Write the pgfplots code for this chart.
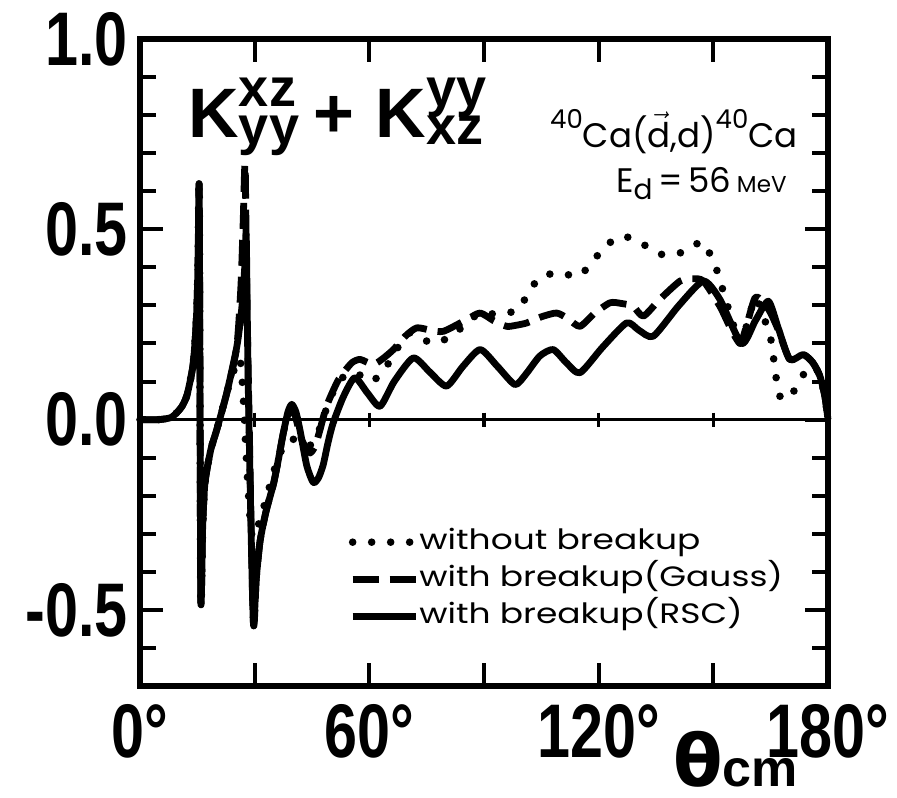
\documentclass[border=0pt]{standalone}
\usepackage{fontspec}
\setmainfont{Liberation Sans}
\newfontfamily\tickfont[FakeStretch=0.78]{Liberation Sans}
\newfontfamily\annfont{Poppins}
\newfontfamily\legfont[FakeStretch=1.23]{Poppins}
\newfontfamily\djv{DejaVu Sans}
\usepackage{pgfplots}
\pgfplotsset{compat=1.18}

% K with a superscript and a subscript pair
\newcommand\scr{\fontsize{27}{27}\selectfont}
\newcommand\KK[2]{K\rlap{\raisebox{15.5pt}{\scr #1}}\raisebox{-3.5pt}{\scr #2}}

\begin{document}
\begin{tikzpicture}
\begin{axis}[
    scale only axis,
    width            = 344pt,
    height           = 323.5pt,
    xmin = 0, xmax = 180,
    ymin = -0.7, ymax = 1.0,
    clip             = false,
    axis line style  = {line width=2.6pt},
    xtick            = {0,30,...,180},
    xticklabels      = {0°,,60°,,120°,,180°},
    ytick            = {-0.5,0,0.5,1},
    yticklabels      = {-0.5,0.0,0.5,1.0},
    minor ytick      = {-0.7,-0.6,-0.4,-0.3,-0.2,-0.1,0.1,0.2,0.3,0.4,0.6,0.7,0.8,0.9},
    tick align       = inside,
    major tick length = 11.5pt,
    minor tick length = 8pt,
    every tick/.style = {line width=2pt, black},
    ticklabel style  = {font=\tickfont\bfseries\fontsize{38}{38}\selectfont, inner sep=0pt},
    xticklabel style = {anchor=base, yshift=-35.5pt},
    yticklabel style = {anchor=east, xshift=-6pt},
    legend style     = {at={(rel axis cs:0.303,0.243)}, anchor=north west,
                        draw=none, fill=none, inner sep=0pt, row sep=5.5pt,
                        font=\legfont\fontsize{14}{14}\selectfont,
                        nodes={inner sep=0pt, text height=10pt, text depth=3pt}},
    legend cell align = left,
    legend image code/.code = {\draw[#1] (0pt,0pt) -- (31.5pt,0pt);},
    every axis plot/.append style = {line join=round},
]

% zero line with its crossing ticks
\addplot[forget plot, line width=1.6pt] coordinates {(0,0) (180,0)};
\addplot[forget plot, only marks, mark=|, mark size=3.5pt, mark options={line width=1.8pt}]
    coordinates {(30,0) (60,0) (90,0) (120,0) (150,0)};

% without breakup
\addplot[line width=3.8pt, line cap=round, dash pattern=on 0pt off 9.5pt, smooth, tension=0.4]
    coordinates {
    (0,0) (5,0) (8,0.005) (9.6,0.018) (11,0.035) (12.2,0.061) (13.3,0.11) (13.95,0.15)
    (14.5,0.22) (14.9,0.30) (15.2,0.42) (15.5,0.597) (15.9,-0.465) (16.4,-0.28) (17,-0.166)
    (18.5,-0.08) (20.1,-0.026) (22.7,0.07) (24.3,0.12) (25.5,0.16) (26.3,0.15) (26.9,0.08)
    (27.4,-0.02) (28.1,-0.15) (28.8,-0.26) (29.4,-0.31) (30.5,-0.29) (31.8,-0.25) (33.5,-0.19)
    (35.5,-0.12) (37.5,-0.07) (39.5,-0.05) (41.5,-0.06) (43.5,-0.07) (45.5,-0.06) (47.5,-0.01)
    (49.5,0.05) (51.5,0.09) (54,0.12) (57,0.12) (60,0.10) (62,0.11) (64.5,0.14) (67.5,0.19)
    (70.6,0.228) (73.5,0.215) (76.7,0.20) (81.5,0.219) (85,0.25) (89,0.28) (93.7,0.276)
    (97,0.282) (99.4,0.294) (101.6,0.333) (104.6,0.373) (109.4,0.386) (114.7,0.377)
    (118.6,0.417) (121.7,0.456) (126.4,0.482) (131.7,0.46) (136.5,0.434) (142.1,0.44)
    (147,0.467) (149.6,0.425) (151,0.39) (154,0.29) (157,0.20) (158.8,0.25) (160.9,0.32)
    (162.5,0.29) (164,0.245) (165.3,0.20) (165.9,0.149) (166.6,0.10) (167.7,0.054)
    (169.5,0.06) (171.4,0.079) (174,0.125) (176.3,0.14) (177.9,0.114) (179.2,0.06) (180,0)
    };

% with breakup (Gauss)
\addplot[line width=3.4pt, dash pattern=on 13pt off 5.5pt, smooth, tension=0.4]
    coordinates {
    (0,0) (5,0) (8,0.005) (9.6,0.018) (11,0.035) (12.2,0.061) (13.3,0.11) (13.95,0.15)
    (14.5,0.22) (14.9,0.30) (15.2,0.42) (15.5,0.597) (15.9,-0.465) (16.4,-0.28) (17,-0.166)
    (18.5,-0.08) (20.1,-0.026) (22.7,0.07) (25.3,0.19) (26.4,0.35) (27.0,0.52) (27.5,0.67)
    (28.0,0.3) (29.6,-0.52) (30.4,-0.42) (31.4,-0.32) (33,-0.24) (34.9,-0.17) (36.3,-0.10)
    (37.5,-0.035) (39.0,0.02) (40.3,0.02) (42.2,-0.05) (44.3,-0.088) (45.8,-0.07) (47,-0.03)
    (48.8,0.035) (51.5,0.097) (53.2,0.123) (55.5,0.15) (57.6,0.158) (61,0.145) (63.5,0.16)
    (66.3,0.184) (69.5,0.22) (72.4,0.241) (76,0.235) (79.4,0.232) (85.5,0.263) (89,0.28)
    (92.5,0.26) (95.9,0.245) (98.5,0.248) (101.2,0.254) (105,0.27) (109,0.28) (112,0.265)
    (115.1,0.245) (119,0.28) (123,0.307) (126,0.305) (129,0.298) (131.7,0.272) (136,0.316)
    (141.3,0.364) (144.5,0.37) (147.4,0.364) (151.7,0.298) (154.5,0.24) (157,0.20)
    (158.5,0.24) (160.9,0.32) (163,0.31) (165,0.28) (167,0.235) (170,0.158) (173.5,0.171)
    (176,0.15) (177.9,0.114) (179.2,0.06) (180,0)
    };

% with breakup (RSC)
\addplot[line width=3.4pt, smooth, tension=0.4]
    coordinates {
    (0,0) (5,0) (8,0.005) (9.6,0.018) (11,0.035) (12.2,0.061) (13.3,0.11) (13.95,0.15)
    (14.5,0.22) (14.9,0.30) (15.2,0.42) (15.5,0.597) (15.9,-0.465) (16.4,-0.28) (17,-0.166)
    (18.5,-0.08) (20.1,-0.026) (22.7,0.07) (25.3,0.19) (26.6,0.29) (27.4,0.40) (27.8,0.48)
    (28.3,0.1) (29.6,-0.52) (30.4,-0.42) (31.4,-0.32) (33,-0.24) (34.9,-0.17) (36.3,-0.10)
    (37.5,-0.035) (38.7,0.02) (39.7,0.04) (40.8,0.02) (41.9,-0.03) (43.6,-0.12) (45.3,-0.165)
    (46.6,-0.155) (47.9,-0.12) (49.2,-0.06) (50.5,-0.01) (53.2,0.06) (56.2,0.11) (59.5,0.07)
    (62.8,0.035) (66.5,0.10) (71.5,0.162) (75.8,0.125) (80.2,0.088) (84.5,0.14) (89,0.184)
    (93.5,0.14) (98.1,0.092) (101,0.12) (104.6,0.167) (108.1,0.184) (111.5,0.15) (115.1,0.123)
    (121,0.19) (127.3,0.254) (130.5,0.235) (134.3,0.219) (141,0.3) (147.4,0.364) (151.7,0.316)
    (157.4,0.20) (161,0.26) (164.4,0.311) (167,0.24) (170,0.158) (173.5,0.171) (176,0.15)
    (177.9,0.114) (179.2,0.06) (180,0)
    };

\legend{without breakup, with breakup(Gauss), with breakup(RSC)}

% annotations
\node[anchor=base west, inner sep=0pt] at (rel axis cs:0.0698,0.847)
    {\bfseries\fontsize{35}{36}\selectfont\KK{xz}{yy}\hspace{7pt}+\hspace{11pt}\KK{yy}{xz}};
\node[anchor=base east, inner sep=0pt] at (rel axis cs:0.9564,0.833)
    {\annfont\fontsize{17}{17}\selectfont\raisebox{9.5pt}{\fontsize{13}{13}\selectfont 40}Ca($\vec{\mbox{d}}$,d)\raisebox{9.5pt}{\fontsize{13}{13}\selectfont 40}Ca};
\node[anchor=base east, inner sep=0pt] at (rel axis cs:0.9404,0.762)
    {\annfont\fontsize{17}{17}\selectfont E\raisebox{-3.5pt}{\fontsize{14}{14}\selectfont d}\,=\,56\,{\fontsize{11.5}{11.5}\selectfont MeV}};
\node[anchor=base west, inner sep=0pt] at (rel axis cs:0.7747,-0.156)
    {\bfseries{\djv\fontsize{36}{36}\selectfont θ}\fontsize{26}{26}\selectfont cm};

% page size of the reference
\path (rel axis cs:-0.2035,-0.1731) rectangle (rel axis cs:1.1003,1.0603);
\end{axis}
\end{tikzpicture}
\end{document}
